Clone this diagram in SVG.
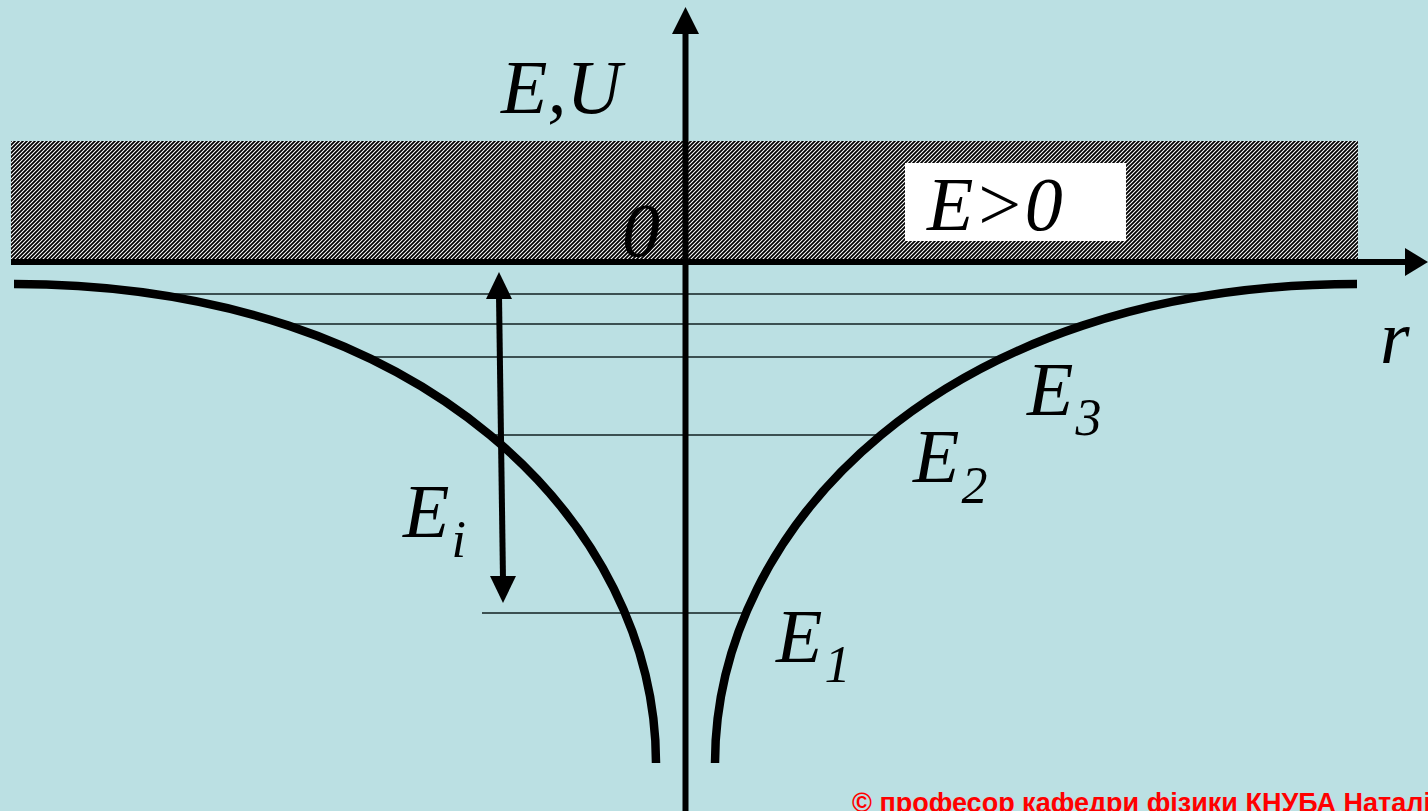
<svg xmlns="http://www.w3.org/2000/svg" width="1428" height="811" viewBox="0 0 1428 811">
  <style>
    .lbl { font-family: "Liberation Serif", "Times New Roman", serif; font-style: italic; fill: #000; }
    .big { font-size: 76px; }
    .sub { font-size: 52px; }
    .lvl { stroke: #102020; stroke-width: 1.6; fill: none; }
    .curve { stroke: #000; stroke-width: 8.5; fill: none; stroke-linecap: butt; }
    .axis { stroke: #000; stroke-width: 6; fill: none; }
    .copy { font-family: "Liberation Sans", Arial, sans-serif; font-weight: bold; font-size: 27px; fill: #FF0000; }
  </style>
  <defs>
    <pattern id="hatch" width="4" height="4" patternUnits="userSpaceOnUse">
      <rect width="4" height="4" fill="#ffffff"/>
      <path d="M-1,1 L1,-1 M0,4 L4,0 M3,5 L5,3" stroke="#000" stroke-width="1.8"/>
    </pattern>
  </defs>
  <rect width="1428" height="811" fill="#BBE0E3"/>

  <g id="continuum">
    <rect x="11" y="141" width="1347" height="120" fill="url(#hatch)"/>
    <rect x="905" y="163" width="221" height="78" fill="#ffffff"/>
    <text class="lbl big" x="927" y="230">E&gt;0</text>
  </g>

  <g id="levels">
    <line class="lvl" x1="160" y1="294" x2="1205" y2="294"/>
    <line class="lvl" x1="283" y1="324" x2="1088" y2="324"/>
    <line class="lvl" x1="367" y1="357" x2="1004" y2="357"/>
    <line class="lvl" x1="490" y1="435" x2="882" y2="435"/>
    <line class="lvl" x1="482" y1="613" x2="742" y2="613"/>
  </g>

  <g id="potential">
    <path class="curve" d="M14,284 C427,284 656,527 656,763"/>
    <path class="curve" d="M1357,284 C944,284 715,527 715,763"/>
  </g>

  <g id="connectors">
    <line class="axis" x1="11" y1="262" x2="1408" y2="262"/>
    <polygon points="1405,248 1428,262 1405,276" fill="#000"/>
    <line class="axis" x1="685.5" y1="30" x2="685.5" y2="811"/>
    <polygon points="672,34 685.5,7 699,34" fill="#000"/>
    <line stroke="#000" stroke-width="6" x1="499" y1="296" x2="503" y2="580"/>
    <polygon points="486,299 499,272 512,299" fill="#000"/>
    <polygon points="490,576 503,603 516,576" fill="#000"/>
  </g>

  <g id="axis-labels">
    <text class="lbl big" x="501" y="113">E,U</text>
    <text class="lbl big" x="622" y="256">0</text>
    <text class="lbl big" x="1380" y="363">r</text>
  </g>

  <g id="level-labels">
    <text class="lbl big" x="1027" y="415">E<tspan class="sub" dx="2" dy="20">3</tspan></text>
    <text class="lbl big" x="913" y="482">E<tspan class="sub" dx="2" dy="21">2</tspan></text>
    <text class="lbl big" x="776" y="662">E<tspan class="sub" dx="2" dy="20">1</tspan></text>
    <text class="lbl big" x="403" y="537">E<tspan class="sub" dx="2" dy="20">i</tspan></text>
  </g>

  <text class="copy" x="852" y="812">© професор кафедри фізики КНУБА Наталія</text>
</svg>
